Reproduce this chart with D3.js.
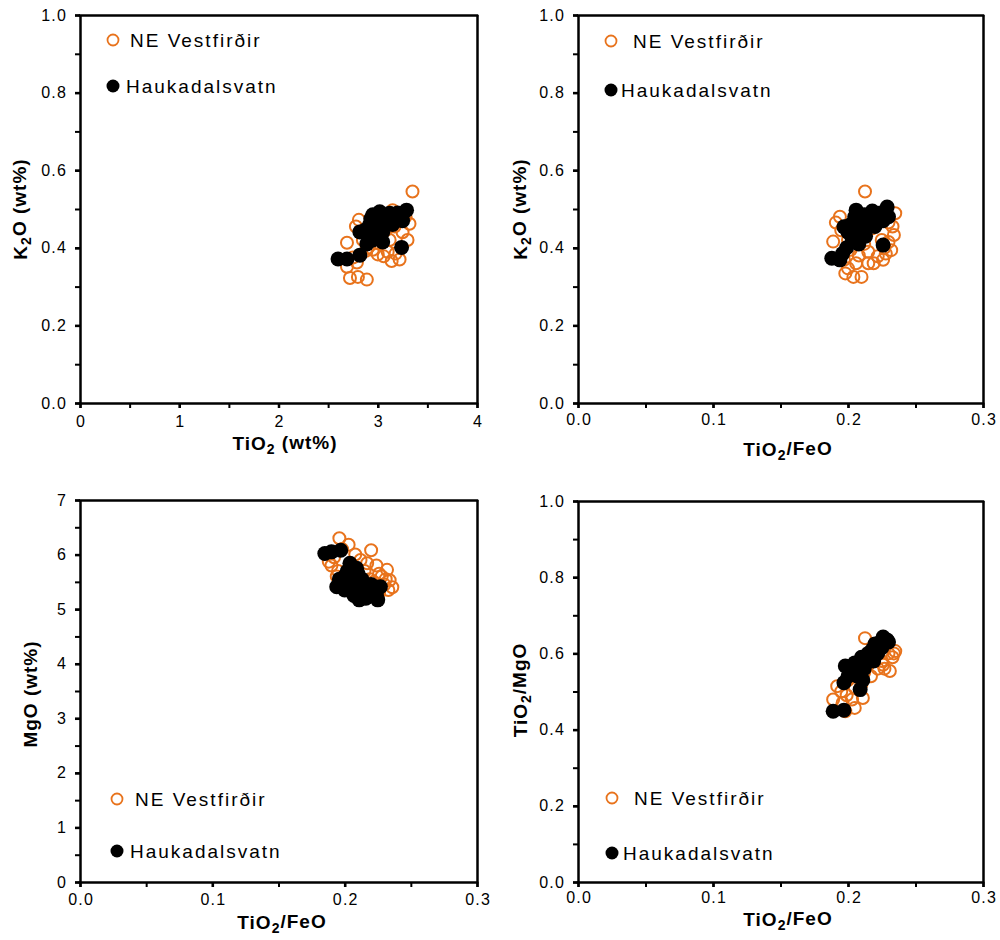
<!DOCTYPE html>
<html>
<head>
<meta charset="utf-8">
<script src="https://cdn.jsdelivr.net/npm/d3@7"></script>
<style>
  html, body { margin: 0; padding: 0; background: #fff; }
  svg { display: block; }
  text { font-family: "Liberation Sans", Arial, Helvetica, sans-serif; fill: #000; }
</style>
</head>
<body>
<svg id="chart" width="1000" height="940"></svg>
<script>
// ---------------- DATA ----------------
const seriesNames = ["NE Vestfirðir", "Haukadalsvatn"];

// Panel 1: TiO2 (wt%) vs K2O (wt%)
const p1Vestfirdir = [[3.35,0.545],[2.81,0.472],[2.78,0.455],[2.69,0.413],[2.72,0.322],[2.80,0.325],[2.89,0.318],[2.69,0.351],[2.79,0.362],[2.75,0.375],[3.14,0.366],[3.22,0.370],[3.32,0.462],[3.06,0.378],[3.15,0.497],[3.28,0.480],[3.10,0.390],[3.18,0.385],[3.25,0.440],[2.95,0.395],[3.00,0.383],[2.85,0.420],[2.92,0.450],[3.05,0.470],[3.20,0.475],[3.12,0.420],[3.02,0.410],[2.88,0.392],[3.30,0.420],[3.08,0.445],[3.17,0.455],[2.98,0.465],[2.90,0.400]];
const p1Haukadalsvatn = [[2.60,0.371],[2.69,0.371],[2.82,0.381],[3.24,0.401],[3.29,0.497],[3.02,0.493],[2.95,0.485],[2.82,0.441],[2.89,0.410],[3.12,0.489],[3.20,0.490],[2.92,0.460],[3.00,0.455],[3.05,0.440],[3.10,0.470],[2.98,0.430],[3.15,0.460],[3.08,0.480],[2.95,0.420],[3.02,0.470],[3.18,0.475],[3.25,0.470],[2.87,0.445],[3.05,0.415],[2.93,0.475]];

// Panel 2: TiO2/FeO vs K2O (wt%)
const p2Vestfirdir = [[0.2126,0.545],[0.194,0.480],[0.191,0.465],[0.189,0.416],[0.198,0.334],[0.204,0.325],[0.210,0.325],[0.200,0.347],[0.219,0.360],[0.226,0.369],[0.234,0.433],[0.235,0.489],[0.232,0.394],[0.197,0.369],[0.228,0.385],[0.222,0.378],[0.230,0.465],[0.215,0.390],[0.208,0.380],[0.202,0.395],[0.212,0.410],[0.225,0.420],[0.205,0.440],[0.218,0.450],[0.230,0.415],[0.195,0.445],[0.210,0.470],[0.222,0.470],[0.233,0.455],[0.200,0.420],[0.215,0.360],[0.227,0.400],[0.206,0.360]];
const p2Haukadalsvatn = [[0.188,0.373],[0.194,0.369],[0.226,0.407],[0.229,0.505],[0.206,0.497],[0.197,0.454],[0.200,0.440],[0.203,0.425],[0.207,0.470],[0.212,0.485],[0.218,0.495],[0.222,0.480],[0.215,0.460],[0.210,0.445],[0.220,0.455],[0.226,0.470],[0.205,0.480],[0.213,0.430],[0.199,0.400],[0.196,0.385],[0.208,0.410],[0.224,0.490],[0.217,0.470],[0.202,0.460],[0.230,0.480]];

// Panel 3: TiO2/FeO vs MgO (wt%)
const p3Vestfirdir = [[0.196,6.30],[0.203,6.18],[0.220,6.08],[0.188,5.87],[0.232,5.72],[0.234,5.53],[0.233,5.35],[0.217,5.84],[0.208,6.00],[0.192,5.95],[0.226,5.65],[0.230,5.45],[0.224,5.80],[0.212,5.90],[0.198,6.10],[0.228,5.60],[0.236,5.40],[0.215,5.70],[0.205,5.75],[0.195,5.70],[0.222,5.50],[0.210,5.60],[0.200,5.55],[0.218,5.35],[0.226,5.30],[0.190,5.80],[0.231,5.55],[0.209,5.45],[0.194,5.60],[0.219,5.55]];
const p3Haukadalsvatn = [[0.185,6.02],[0.197,6.08],[0.190,6.05],[0.204,5.84],[0.194,5.41],[0.211,5.17],[0.225,5.17],[0.227,5.41],[0.200,5.60],[0.205,5.50],[0.210,5.65],[0.215,5.40],[0.218,5.30],[0.208,5.35],[0.222,5.30],[0.198,5.45],[0.213,5.55],[0.202,5.70],[0.207,5.25],[0.220,5.45],[0.196,5.55],[0.216,5.20],[0.224,5.25],[0.209,5.75],[0.200,5.35]];

// Panel 4: TiO2/FeO vs TiO2/MgO
const p4Vestfirdir = [[0.2126,0.640],[0.235,0.606],[0.231,0.554],[0.211,0.483],[0.203,0.479],[0.189,0.479],[0.192,0.514],[0.205,0.457],[0.198,0.448],[0.233,0.590],[0.228,0.620],[0.222,0.560],[0.218,0.600],[0.215,0.570],[0.225,0.580],[0.208,0.540],[0.200,0.530],[0.195,0.500],[0.230,0.600],[0.220,0.590],[0.212,0.550],[0.205,0.510],[0.226,0.570],[0.217,0.540],[0.199,0.490],[0.234,0.600],[0.223,0.610],[0.210,0.520],[0.196,0.470],[0.227,0.560]];
const p4Haukadalsvatn = [[0.189,0.448],[0.197,0.451],[0.226,0.643],[0.198,0.567],[0.197,0.523],[0.209,0.505],[0.229,0.635],[0.220,0.625],[0.215,0.600],[0.210,0.590],[0.205,0.575],[0.202,0.550],[0.212,0.560],[0.218,0.610],[0.224,0.630],[0.207,0.540],[0.213,0.580],[0.222,0.600],[0.200,0.540],[0.216,0.590],[0.230,0.630],[0.208,0.570],[0.211,0.530],[0.219,0.580],[0.225,0.615]];

// Axis ticks
const ticksTiO2 = [0, 1, 2, 3, 4];
const ticksRatio = [0.0, 0.1, 0.2, 0.3];
const ticksUnit = [0.0, 0.2, 0.4, 0.6, 0.8, 1.0];
const ticksMgO = [0, 1, 2, 3, 4, 5, 6, 7];

// ---------------- DRAWING ----------------
const ORANGE = "#E8731C";
const svg = d3.select("#chart");

function richText(sel, parts, subSize) {
  let prevSub = false;
  parts.forEach(([t, sub]) => {
    const ts = sel.append("tspan").text(t);
    if (sub && !prevSub) { ts.attr("dy", "0.28em").attr("font-size", subSize); }
    if (!sub && prevSub) { ts.attr("dy", "-0.28em"); }
    if (sub && prevSub) { ts.attr("font-size", subSize); }
    prevSub = sub;
  });
}

const panels = [
  { box: [80, 477, 15, 403], x: [0, 4], y: [0, 1], xt: ticksTiO2, xm: 0.5, yt: ticksUnit, ym: 0.1,
    xf: d3.format("d"), yf: d3.format(".1f"),
    xTitle: [["TiO", false], ["2", true], [" (wt%)", false]], xTitlePos: [285, 450],
    yTitle: [["K", false], ["2", true], ["O (wt%)", false]], yTitlePos: [27, 209],
    xLabBase: 427,
    data: [p1Vestfirdir, p1Haukadalsvatn],
    leg: [[113, 40, 130], [113, 86, 126]] },
  { box: [578, 983, 15, 403], x: [0, 0.3], y: [0, 1], xt: ticksRatio, xm: 0.05, yt: ticksUnit, ym: 0.1,
    xf: d3.format(".1f"), yf: d3.format(".1f"),
    xTitle: [["TiO", false], ["2", true], ["/FeO", false]], xTitlePos: [788, 456],
    yTitle: [["K", false], ["2", true], ["O (wt%)", false]], yTitlePos: [527, 209],
    xLabBase: 425,
    data: [p2Vestfirdir, p2Haukadalsvatn],
    leg: [[611, 41, 633], [611, 90, 621]] },
  { box: [80, 477, 500, 882], x: [0, 0.3], y: [0, 7], xt: ticksRatio, xm: 0.05, yt: ticksMgO, ym: 0.5,
    xf: d3.format(".1f"), yf: d3.format("d"),
    xTitle: [["TiO", false], ["2", true], ["/FeO", false]], xTitlePos: [282, 929],
    yTitle: [["MgO (wt%)", false]], yTitlePos: [37, 694],
    xLabBase: 905,
    data: [p3Vestfirdir, p3Haukadalsvatn],
    leg: [[117, 799, 135], [117, 851, 130]] },
  { box: [578, 983, 501, 882], x: [0, 0.3], y: [0, 1], xt: ticksRatio, xm: 0.05, yt: ticksUnit, ym: 0.1,
    xf: d3.format(".1f"), yf: d3.format(".1f"),
    xTitle: [["TiO", false], ["2", true], ["/FeO", false]], xTitlePos: [788, 926],
    yTitle: [["TiO", false], ["2", true], ["/MgO", false]], yTitlePos: [527, 690],
    xLabBase: 903,
    data: [p4Vestfirdir, p4Haukadalsvatn],
    leg: [[612, 798, 634], [612, 853, 623]] }
];

panels.forEach(p => {
  const [L, R, T, B] = p.box;
  const xs = d3.scaleLinear().domain(p.x).range([L, R]);
  const ys = d3.scaleLinear().domain(p.y).range([B, T]);
  const g = svg.append("g");

  // frame built from full-length axis ticks at the domain ends
  g.append("g").attr("transform", `translate(0,${B})`)
    .call(d3.axisBottom(xs).tickValues(p.x).tickSize(-(B - T)).tickFormat(""))
    .call(a => a.select(".domain").remove())
    .selectAll("line").attr("stroke", "#000").attr("stroke-width", 2.5);
  g.append("g").attr("transform", `translate(${L},0)`)
    .call(d3.axisLeft(ys).tickValues(p.y).tickSize(-(R - L)).tickFormat(""))
    .call(a => a.select(".domain").remove())
    .selectAll("line").attr("stroke", "#000").attr("stroke-width", 2.5)
    .attr("x1", -1.25).attr("x2", (R - L) + 1.25);

  // minor ticks
  const xMinor = d3.range(p.x[0], p.x[1] + 1e-9, p.xm).map(v => +v.toFixed(4));
  const yMinor = d3.range(p.y[0], p.y[1] + 1e-9, p.ym).map(v => +v.toFixed(4));
  g.append("g").attr("transform", `translate(0,${B})`)
    .call(d3.axisBottom(xs).tickValues(xMinor).tickSize(5).tickFormat(""))
    .call(a => a.select(".domain").remove())
    .selectAll("line").attr("stroke", "#000").attr("stroke-width", 2);
  g.append("g").attr("transform", `translate(${L},0)`)
    .call(d3.axisLeft(ys).tickValues(yMinor).tickSize(5).tickFormat(""))
    .call(a => a.select(".domain").remove())
    .selectAll("line").attr("stroke", "#000").attr("stroke-width", 2);

  // major x axis
  const xa = g.append("g").attr("transform", `translate(0,${B})`)
    .call(d3.axisBottom(xs).tickValues(p.xt).tickFormat(p.xf).tickSize(5).tickPadding(6));
  xa.select(".domain").remove();
  xa.selectAll("line").attr("stroke", "#000").attr("stroke-width", 2.5);
  xa.selectAll("text").attr("font-size", 16).attr("letter-spacing", "1.2px")
    .attr("fill", "#000").attr("font-family", "Liberation Sans, Arial, sans-serif")
    .attr("y", null).attr("dy", null)
    .attr("transform", `translate(0.6,${p.xLabBase - B})`);

  // major y axis
  const ya = g.append("g").attr("transform", `translate(${L},0)`)
    .call(d3.axisLeft(ys).tickValues(p.yt).tickFormat(p.yf).tickSize(5).tickPadding(8));
  ya.select(".domain").remove();
  ya.selectAll("line").attr("stroke", "#000").attr("stroke-width", 2.5);
  ya.selectAll("text").attr("font-size", 16).attr("letter-spacing", "1.2px")
    .attr("fill", "#000").attr("font-family", "Liberation Sans, Arial, sans-serif");

  // data: orange open circles first, black filled on top
  g.append("g").selectAll("circle").data(p.data[0]).join("circle")
    .attr("cx", d => xs(d[0])).attr("cy", d => ys(d[1])).attr("r", 6)
    .attr("fill", "none").attr("stroke", ORANGE).attr("stroke-width", 2);
  g.append("g").selectAll("circle").data(p.data[1]).join("circle")
    .attr("cx", d => xs(d[0])).attr("cy", d => ys(d[1])).attr("r", 7.5)
    .attr("fill", "#000");

  // titles
  const xtt = g.append("text").attr("x", p.xTitlePos[0]).attr("y", p.xTitlePos[1])
    .attr("text-anchor", "middle").attr("font-size", 19).attr("font-weight", "bold")
    .attr("letter-spacing", "1px");
  richText(xtt, p.xTitle, 14);
  const ytt = g.append("text")
    .attr("transform", `translate(${p.yTitlePos[0]},${p.yTitlePos[1]}) rotate(-90)`)
    .attr("text-anchor", "middle").attr("font-size", 19).attr("font-weight", "bold")
    .attr("letter-spacing", "1px");
  richText(ytt, p.yTitle, 14);

  // legend
  const [o, f] = p.leg;
  g.append("circle").attr("cx", o[0]).attr("cy", o[1]).attr("r", 5.5)
    .attr("fill", "none").attr("stroke", ORANGE).attr("stroke-width", 1.8);
  g.append("text").attr("x", o[2]).attr("y", o[1]).attr("dy", "0.36em")
    .attr("font-size", 19).attr("letter-spacing", "2px").text(seriesNames[0]);
  g.append("circle").attr("cx", f[0]).attr("cy", f[1]).attr("r", 6.5).attr("fill", "#000");
  g.append("text").attr("x", f[2]).attr("y", f[1]).attr("dy", "0.36em")
    .attr("font-size", 19).attr("letter-spacing", "2px").text(seriesNames[1]);
});
</script>
</body>
</html>
